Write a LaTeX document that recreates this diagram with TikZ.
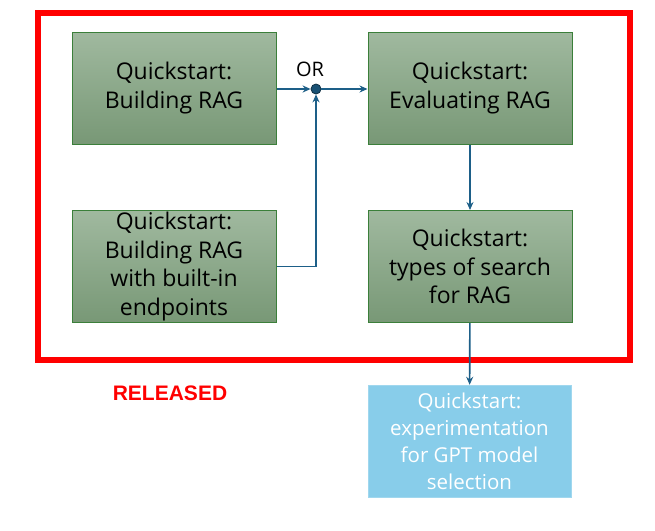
\documentclass[tikz,border=0pt]{standalone}
\usepackage{fontspec}
\setmainfont{Open Sans}
\newfontfamily\relfont{Liberation Sans}
\usetikzlibrary{arrows.meta}

\definecolor{qsTop}{HTML}{A0B99F}
\definecolor{qsBot}{HTML}{789876}
\definecolor{qsEdge}{HTML}{3B7F3A}
\definecolor{linkblue}{HTML}{1D5F88}
\definecolor{skybox}{HTML}{88CDEA}

\tikzset{
  qsbox/.style={draw=qsEdge, line width=1pt, top color=qsTop, bottom color=qsBot,
    minimum width=204pt, minimum height=112pt, inner sep=0pt, align=center,
    font=\fontsize{23}{28.5}\selectfont},
  nextbox/.style={fill=skybox, draw=skybox!80!white, minimum width=203pt, minimum height=112pt,
    inner sep=0pt, align=center, text=white, font=\fontsize{20.5}{27}\selectfont},
  link/.style={draw=linkblue, line width=1.6pt, -{Stealth[length=8pt,width=7pt]}}
}

\begin{document}
\begin{tikzpicture}[x=1pt,y=-1pt]
\useasboundingbox (0,0) rectangle (655,530);
% released frame
\draw[red, line width=6pt] (37.5,12.5) rectangle (629.5,359.5);
\node[text=red, font=\relfont\bfseries\fontsize{21}{24}\selectfont] (rel) at (170,393) {RELEASED};
% boxes
\node[qsbox] (build) at (174,88) {Quickstart:\\Building RAG};
\node[qsbox] (eval) at (470,88) {Quickstart:\\Evaluating RAG};
\node[qsbox] (builtin) at (174,266.5) {Quickstart:\\Building RAG\\with built-in\\endpoints};
\node[qsbox] (search) at (470,266.5) {Quickstart:\\types of search\\for RAG};
\node[nextbox] (gpt) at (469.5,441) {Quickstart:\\experimentation\\for GPT model\\selection};
% junction
\node[circle, fill=linkblue!85!black, draw=linkblue!50!black, line width=0.8pt,
  minimum size=10pt, inner sep=0pt] (or) at (316,89) {};
\node[font=\fontsize{20}{24}\selectfont] (ortext) at (310,69) {OR};
% links
\draw[link] (build.east |- or) -- (or);
\draw[link] (or) -- (eval.west |- or);
\draw[link] (builtin.east) -| (or);
\draw[link] (eval) -- (search);
\draw[link] (search) -- (gpt);
\end{tikzpicture}
\end{document}
